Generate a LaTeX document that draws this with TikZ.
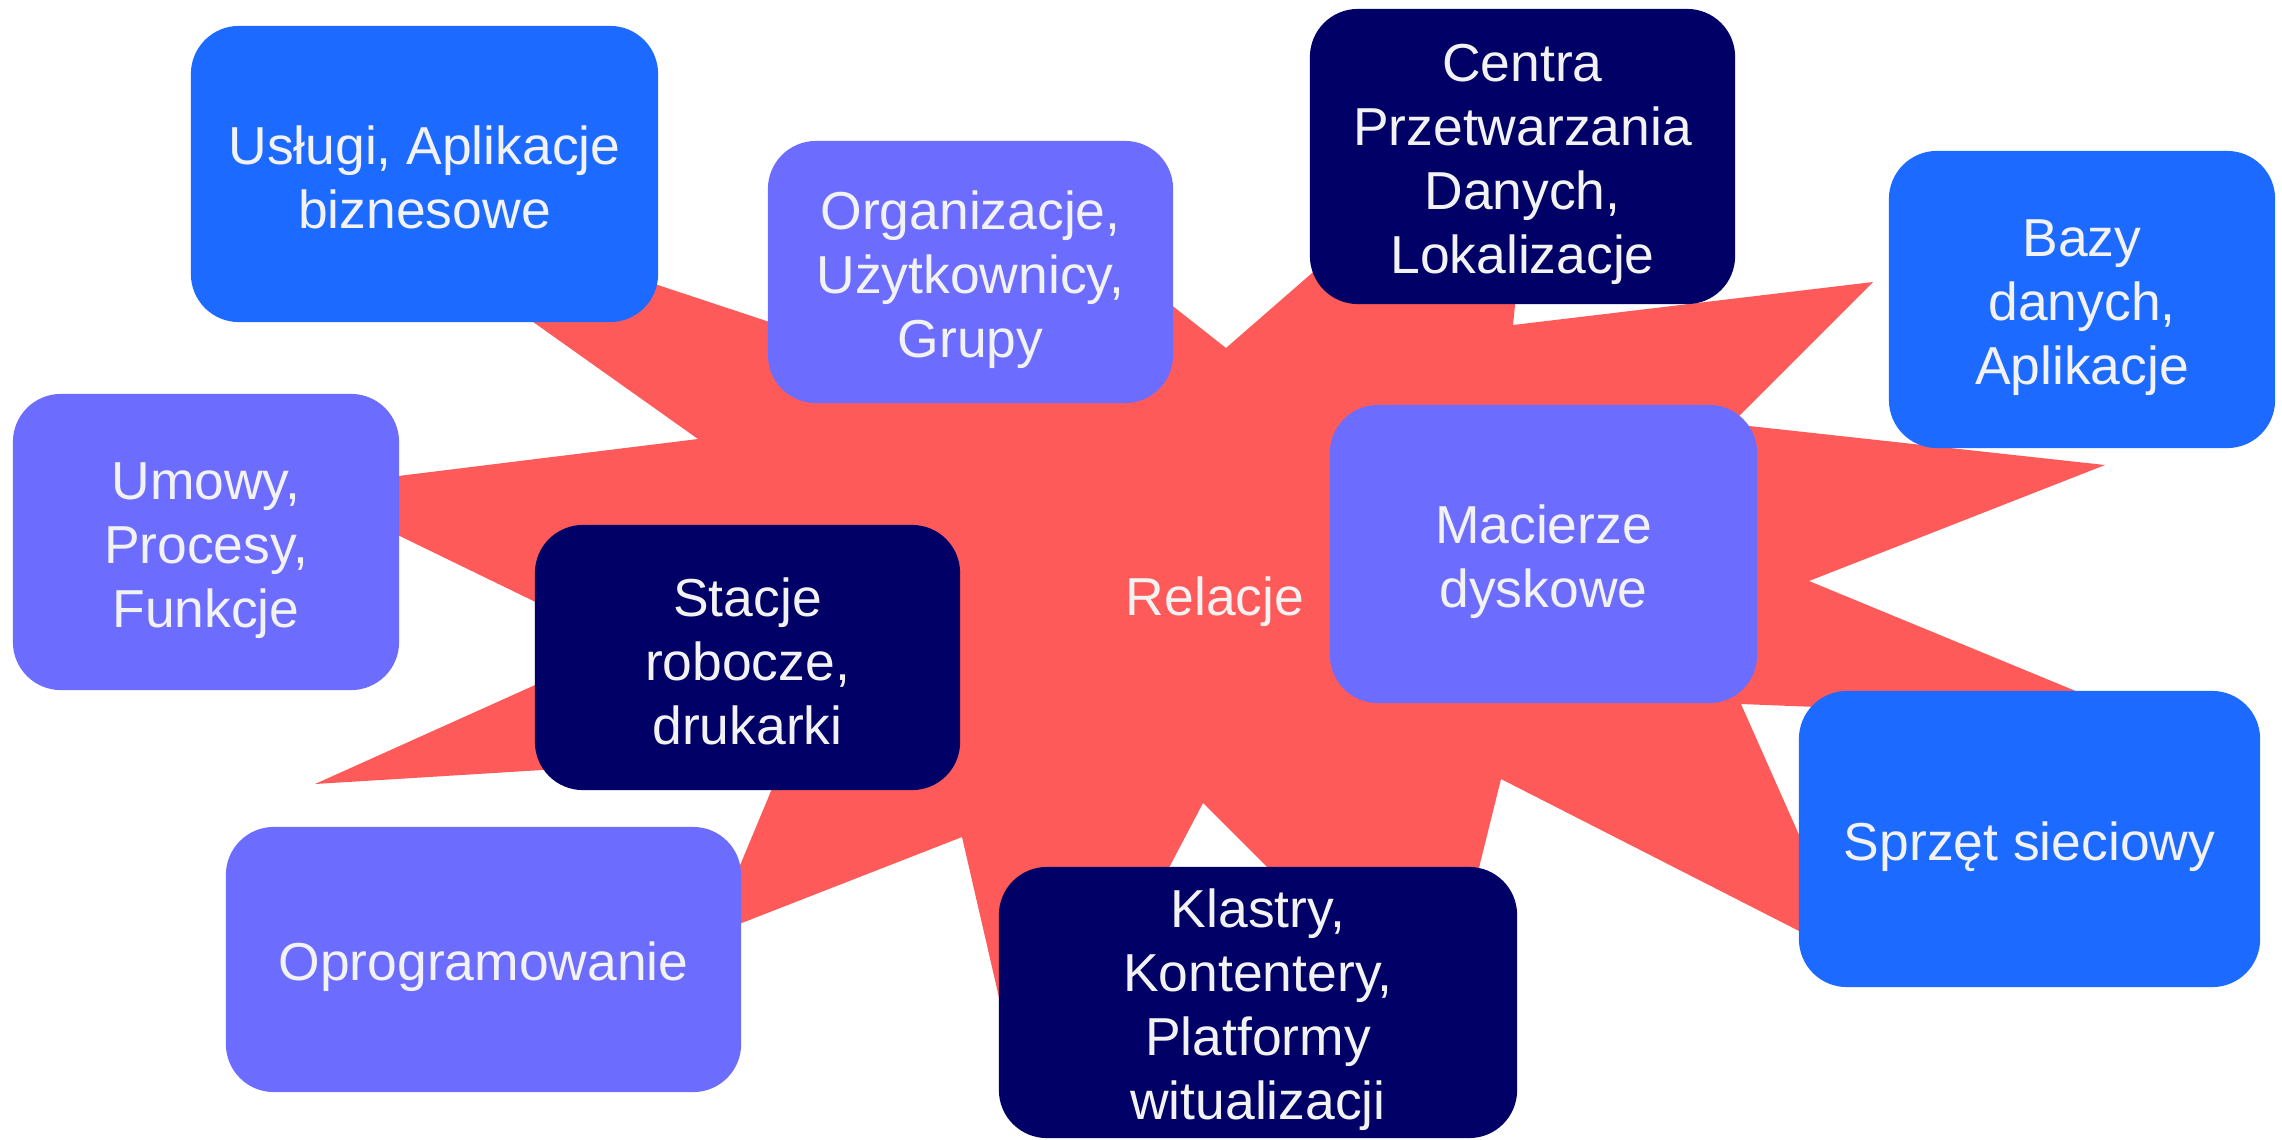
\documentclass[tikz,border=0pt]{standalone}
\usepackage{fontspec}
\setmainfont{Liberation Sans}
\definecolor{starred}{RGB}{255,90,90}
\definecolor{boxblue}{RGB}{28,106,255}
\definecolor{boxviolet}{RGB}{108,108,255}
\definecolor{boxnavy}{RGB}{0,0,102}
\definecolor{boxtext}{RGB}{242,242,242}
\newcommand{\boxstrut}{\rule[-2.3pt]{0pt}{17.5pt}}

\begin{document}
\begin{tikzpicture}[x=0.01cm, y=-0.01cm,
    label/.style = {inner sep=0pt, align=center, text=boxtext,
        font=\fontsize{15.2}{18.2}\selectfont,
        execute at begin node=\boxstrut, execute at end node=\boxstrut},
    main/.style = {label, rounded corners=0.48cm},
    blue/.style = {main, fill=boxblue},
    violet/.style = {main, fill=boxviolet},
    navy/.style = {main, fill=boxnavy}]
    \useasboundingbox (0,0) rectangle (2282,1139);

    \fill[starred] (1501,779) -- (1854,959) -- (1741,704) -- (2146,720) -- (1809,581)
        -- (2105,465) -- (1731,424) -- (1873,282) -- (1513,325) -- (1538,76)
        -- (1226,348) -- (1010,178) -- (860,352) -- (326,175) -- (698,439)
        -- (301,488) -- (624,645) -- (315,784) -- (786,755) -- (711,935)
        -- (962,837) -- (1030,1132) -- (1203,803) -- (1437,1037) -- cycle;

    \node[label] (relacje) at (1215,594) {Relacje};

    \node[blue, minimum width=4.67cm, minimum height=2.96cm] (uslugi) at (424.5,174) {\boxstrut Usługi, Aplikacje\\biznesowe};
    \node[violet, minimum width=4.05cm, minimum height=2.62cm] (organizacje) at (970.5,272) {\boxstrut Organizacje,\\Użytkownicy,\\Grupy};
    \node[navy, minimum width=4.25cm, minimum height=2.95cm] (centra) at (1522.5,156.5) {\boxstrut Centra\\Przetwarzania\\Danych,\\Lokalizacje};
    \node[blue, minimum width=3.86cm, minimum height=2.97cm] (bazy) at (2082,299.5) {\boxstrut Bazy\\danych,\\Aplikacje};
    \node[violet, minimum width=3.86cm, minimum height=2.96cm] (umowy) at (206,542) {\boxstrut Umowy,\\Procesy,\\Funkcje};
    \node[navy, minimum width=4.25cm, minimum height=2.65cm] (stacje) at (747.5,657.5) {\boxstrut Stacje\\robocze,\\drukarki};
    \node[violet, minimum width=4.27cm, minimum height=2.98cm] (macierze) at (1543.5,554) {\boxstrut Macierze\\dyskowe};
    \node[violet, minimum width=5.15cm, minimum height=2.65cm] (oprogramowanie) at (483.5,959.5) {Oprogramowanie};
    \node[navy, minimum width=5.18cm, minimum height=2.71cm] (klastry) at (1258,1002.5) {\boxstrut Klastry,\\Kontentery,\\Platformy\\witualizacji};
    \node[blue, minimum width=4.61cm, minimum height=2.96cm] (sprzet) at (2029.5,839) {Sprzęt sieciowy};

\end{tikzpicture}
\end{document}
